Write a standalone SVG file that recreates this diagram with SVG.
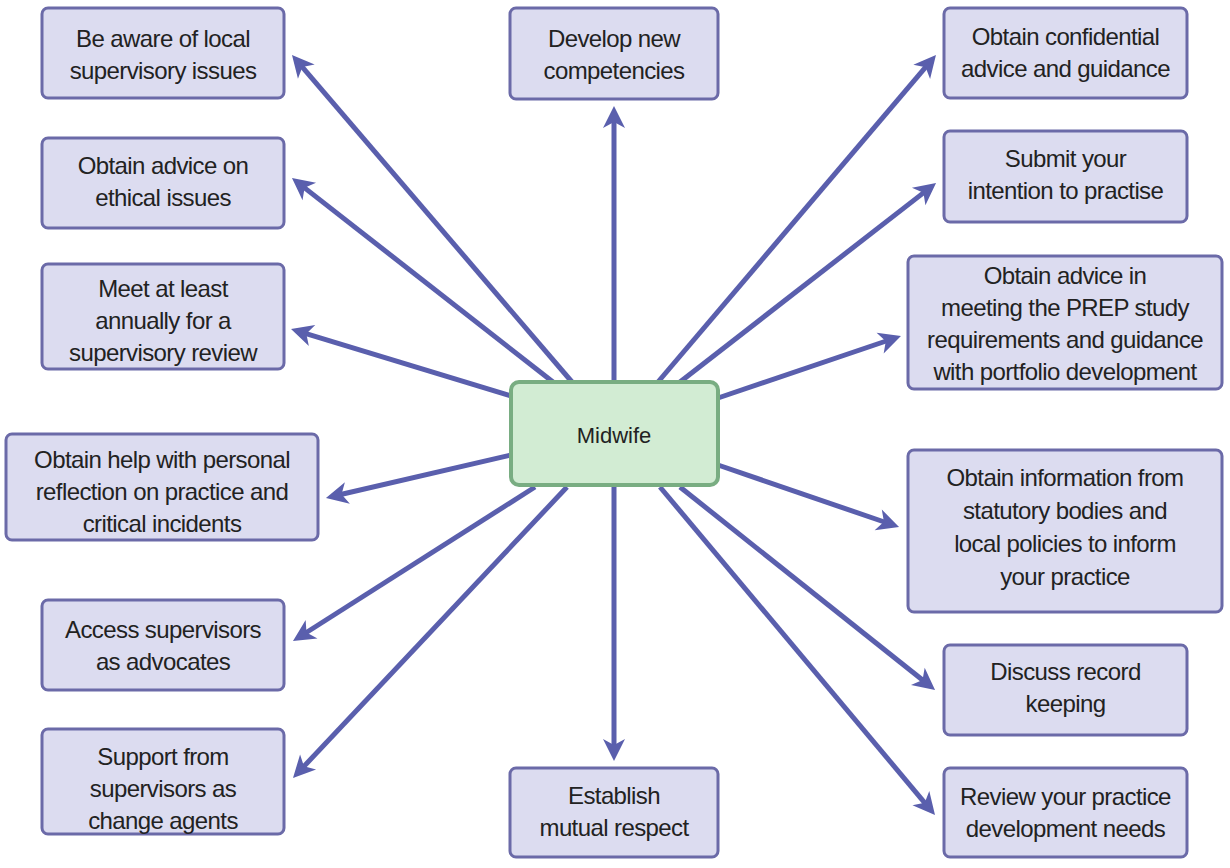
<svg xmlns="http://www.w3.org/2000/svg" width="1230" height="868" viewBox="0 0 1230 868">
<style>
.box{fill:#dcdcf0;stroke:#6b6aa8;stroke-width:3}
.mid{fill:#d2ecd3;stroke:#79ad82;stroke-width:4}
.t{font-family:"Liberation Sans",Arial,sans-serif;font-size:24px;fill:#222;text-anchor:middle;letter-spacing:-0.6px}
.c{stroke:#5a5fad;stroke-width:5;fill:none;marker-end:url(#ah)}
</style>
<defs>
<marker id="ah" markerUnits="userSpaceOnUse" markerWidth="30" markerHeight="30" viewBox="-2 -14 30 28" refX="8" refY="0" orient="auto">
<path d="M0,-11 L22,0 L0,11 L6,0 Z" fill="#5a5fad"/>
</marker>
</defs>
<rect width="1230" height="868" fill="#fff"/>
<g id="connectors">
<line class="c" x1="572" y1="382" x2="301.1" y2="65.6"/>
<line class="c" x1="553" y1="382" x2="303" y2="186.6"/>
<line class="c" x1="511" y1="396" x2="304.4" y2="333.1"/>
<line class="c" x1="511" y1="455" x2="339.6" y2="494.8"/>
<line class="c" x1="535" y1="487" x2="304.8" y2="633.5"/>
<line class="c" x1="567" y1="487" x2="302.6" y2="767.8"/>
<line class="c" x1="614" y1="382" x2="614" y2="120"/>
<line class="c" x1="614" y1="485" x2="614" y2="747"/>
<line class="c" x1="658" y1="382" x2="926.9" y2="65.7"/>
<line class="c" x1="680" y1="382" x2="925" y2="191.6"/>
<line class="c" x1="718" y1="398" x2="887.7" y2="340.5"/>
<line class="c" x1="718" y1="465" x2="885.8" y2="522.5"/>
<line class="c" x1="680" y1="487" x2="924.1" y2="681.3"/>
<line class="c" x1="660" y1="487" x2="926" y2="804.3"/>
</g>
<g id="midwife">
<rect class="mid" x="511" y="382" width="207" height="103" rx="8"/>
<text class="t" x="614" y="443" style="font-size:22px;letter-spacing:0">Midwife</text>
</g>
<g id="n-local">
<rect class="box" x="42" y="8" width="242" height="90" rx="6"/>
<text class="t"><tspan x="163" y="47">Be aware of local</tspan><tspan x="163" y="79">supervisory issues</tspan></text>
</g>
<g id="n-ethical">
<rect class="box" x="42" y="138" width="242" height="90" rx="6"/>
<text class="t"><tspan x="163" y="174">Obtain advice on</tspan><tspan x="163" y="206">ethical issues</tspan></text>
</g>
<g id="n-annual">
<rect class="box" x="42" y="264" width="242" height="105" rx="6"/>
<text class="t"><tspan x="163" y="297">Meet at least</tspan><tspan x="163" y="329">annually for a</tspan><tspan x="163" y="361">supervisory review</tspan></text>
</g>
<g id="n-reflection">
<rect class="box" x="6" y="434" width="312" height="106" rx="6"/>
<text class="t"><tspan x="162" y="468">Obtain help with personal</tspan><tspan x="162" y="500">reflection on practice and</tspan><tspan x="162" y="532">critical incidents</tspan></text>
</g>
<g id="n-advocates">
<rect class="box" x="42" y="600" width="242" height="90" rx="6"/>
<text class="t"><tspan x="163" y="638">Access supervisors</tspan><tspan x="163" y="670">as advocates</tspan></text>
</g>
<g id="n-change">
<rect class="box" x="42" y="729" width="242" height="105" rx="6"/>
<text class="t"><tspan x="163" y="765">Support from</tspan><tspan x="163" y="797">supervisors as</tspan><tspan x="163" y="829">change agents</tspan></text>
</g>
<g id="n-competencies">
<rect class="box" x="510" y="8" width="208" height="91" rx="6"/>
<text class="t"><tspan x="614" y="47">Develop new</tspan><tspan x="614" y="79">competencies</tspan></text>
</g>
<g id="n-respect">
<rect class="box" x="510" y="768" width="208" height="89" rx="6"/>
<text class="t"><tspan x="614" y="804">Establish</tspan><tspan x="614" y="836">mutual respect</tspan></text>
</g>
<g id="n-confidential">
<rect class="box" x="944" y="8" width="243" height="90" rx="6"/>
<text class="t"><tspan x="1065.5" y="45">Obtain confidential</tspan><tspan x="1065.5" y="77">advice and guidance</tspan></text>
</g>
<g id="n-intention">
<rect class="box" x="944" y="131" width="243" height="91" rx="6"/>
<text class="t"><tspan x="1065.5" y="167">Submit your</tspan><tspan x="1065.5" y="199">intention to practise</tspan></text>
</g>
<g id="n-prep">
<rect class="box" x="908" y="256" width="314" height="133" rx="6"/>
<text class="t"><tspan x="1065" y="284">Obtain advice in</tspan><tspan x="1065" y="316">meeting the PREP study</tspan><tspan x="1065" y="348">requirements and guidance</tspan><tspan x="1065" y="380">with portfolio development</tspan></text>
</g>
<g id="n-statutory">
<rect class="box" x="908" y="450" width="314" height="162" rx="6"/>
<text class="t"><tspan x="1065" y="486">Obtain information from</tspan><tspan x="1065" y="519">statutory bodies and</tspan><tspan x="1065" y="552">local policies to inform</tspan><tspan x="1065" y="585">your practice</tspan></text>
</g>
<g id="n-record">
<rect class="box" x="944" y="645" width="243" height="90" rx="6"/>
<text class="t"><tspan x="1065.5" y="680">Discuss record</tspan><tspan x="1065.5" y="712">keeping</tspan></text>
</g>
<g id="n-review">
<rect class="box" x="944" y="768" width="243" height="89" rx="6"/>
<text class="t"><tspan x="1065.5" y="805">Review your practice</tspan><tspan x="1065.5" y="837">development needs</tspan></text>
</g>
</svg>
